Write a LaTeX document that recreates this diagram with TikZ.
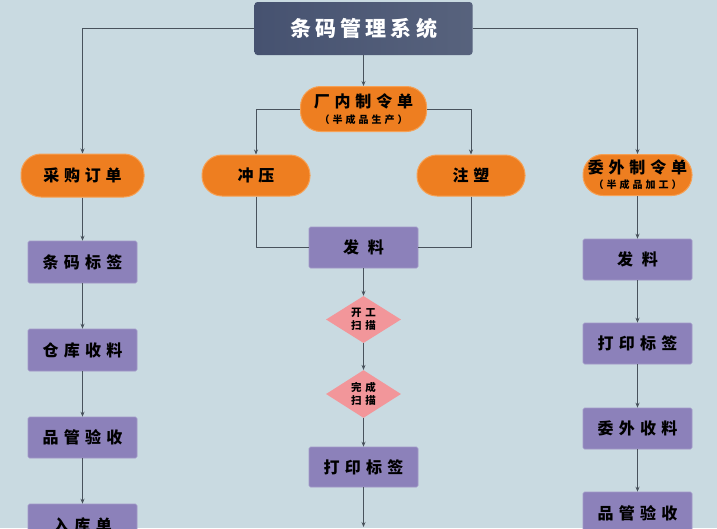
\documentclass[tikz,border=0pt]{standalone}
\usepackage{fontspec}
\setmainfont{Noto Sans CJK SC}
\usetikzlibrary{shapes.geometric, arrows.meta}
\definecolor{bgblue}{RGB}{201,218,225}
\definecolor{titledark}{RGB}{70,82,112}
\definecolor{titlelight}{RGB}{140,148,164}
\definecolor{ordfill}{RGB}{238,126,32}
\definecolor{ordedge}{RGB}{246,160,84}
\definecolor{stepfill}{RGB}{140,129,186}
\definecolor{stepedge}{RGB}{162,152,200}
\definecolor{scanfill}{RGB}{242,150,154}
\definecolor{linegray}{RGB}{72,82,92}
\newcommand{\notefont}{\fontsize{10}{12}\selectfont\addfontfeature{LetterSpace=30}}
\begin{document}
\begin{tikzpicture}[x=1pt, y=-1pt, >={Stealth[length=5pt, width=4pt]}, line join=round,
	order/.style={rounded corners=20pt, fill=ordfill, draw=ordedge, line width=1pt, minimum height=41pt, inner sep=0pt, align=center, text=black,
		font=\fontsize{16}{17}\selectfont\bfseries\addfontfeature{LetterSpace=30}},
	stepbox/.style={fill=stepfill, draw=stepedge, line width=0.6pt, rounded corners=1.5pt, minimum width=109pt, minimum height=41pt, inner sep=0pt, text=black,
		font=\fontsize{16}{18}\selectfont\bfseries\addfontfeature{LetterSpace=33}},
	scan/.style={diamond, fill=scanfill, minimum width=75pt, minimum height=41pt, inner sep=0pt, align=center, text=black,
		font=\fontsize{10.5}{13}\selectfont\bfseries\addfontfeature{LetterSpace=35}},
	flow/.style={->, draw=linegray, line width=0.7pt}]
	\def\xl{82.5}
	\def\xm{363.5}
	\def\xr{637.5}
	\useasboundingbox (0,0) rectangle (717,528);
	\clip (0,0) rectangle (717,528);
	\fill [bgblue] (0,0) rectangle (717,528);
	\node (title) [left color=titledark, middle color=titlelight, right color=titledark!75!titlelight, rounded corners=3pt, minimum width=218pt, minimum height=53pt, text=white,
		font=\fontsize{21}{24}\selectfont\bfseries\addfontfeature{LetterSpace=20}] at (\xm,28.5) {条码管理系统};
	\node (inord) [order, minimum width=126pt, minimum height=45pt] at (\xm,109) {厂内制令单\\[-1pt]{\notefont（半成品生产）}};
	\node (buy) [order, minimum width=123pt, minimum height=43pt] at (\xl,175.5) {采购订单};
	\node (press) [order, minimum width=108pt] at (256,175.5) {冲压};
	\node (mold) [order, minimum width=108pt] at (471,175.5) {注塑};
	\node (outord) [order, minimum width=109pt] at (\xr,175) {委外制令单\\[-2pt]{\notefont（半成品加工）}};
	\node (tag) [stepbox, minimum height=42pt] at (\xl,262) {条码标签};
	\node (recv) [stepbox, minimum height=42pt] at (\xl,350) {仓库收料};
	\node (qc) [stepbox] at (\xl,437.5) {品管验收};
	\node (stockin) [stepbox, minimum height=42pt] at (\xl,525) {入库单};
	\node (issue) [stepbox] at (\xm,247.5) {发 料};
	\node (scanA) [scan] at (\xm,319.5) {开工\\扫描};
	\node (scanB) [scan, minimum height=42pt] at (\xm,394) {完成\\扫描};
	\node (print) [stepbox, minimum height=40pt] at (\xm,467) {打印标签};
	\coordinate (down) at (\xm,527);
	\node (rissue) [stepbox] at (\xr,259.5) {发 料};
	\node (rprint) [stepbox] at (\xr,343.5) {打印标签};
	\node (rrecv) [stepbox] at (\xr,428.5) {委外收料};
	\node (rqc) [stepbox, minimum height=42pt] at (\xr,513) {品管验收};
	\draw [flow] (title.west) -| (buy.north);
	\draw [flow] (title.east) -| (outord.north);
	\draw [flow] (title.south) -- (inord.north);
	\draw [flow] (inord.west) -| (press.north);
	\draw [flow] (inord.east) -| (mold.north);
	\draw [draw=linegray, line width=0.7pt] (press.south) |- (issue.west);
	\draw [draw=linegray, line width=0.7pt] (mold.south) |- (issue.east);
	\draw [flow] (buy.south) -- (tag.north);
	\draw [flow] (tag.south) -- (recv.north);
	\draw [flow] (recv.south) -- (qc.north);
	\draw [flow] (qc.south) -- (stockin.north);
	\draw [flow] (issue.south) -- (scanA.north);
	\draw [flow] (scanA.south) -- (scanB.north);
	\draw [flow] (scanB.south) -- (print.north);
	\draw [flow] (print.south) -- (down);
	\draw [flow] (outord.south) -- (rissue.north);
	\draw [flow] (rissue.south) -- (rprint.north);
	\draw [flow] (rprint.south) -- (rrecv.north);
	\draw [flow] (rrecv.south) -- (rqc.north);
\end{tikzpicture}
\end{document}
